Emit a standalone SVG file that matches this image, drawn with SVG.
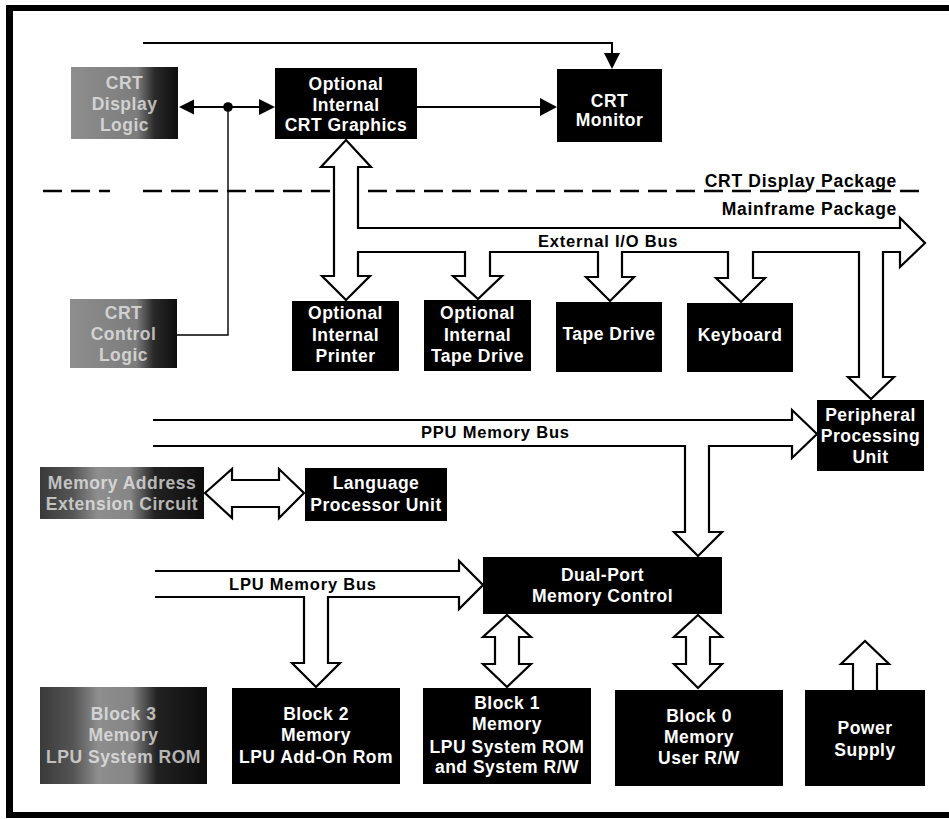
<svg xmlns="http://www.w3.org/2000/svg" width="949" height="819" viewBox="0 0 949 819">
<style>
  .box{fill:#000;}
  .gbox{fill:url(#fadeR);}
  .gbox2{fill:url(#fadeB);}
  .t{font-family:"Liberation Sans",Arial,Helvetica,sans-serif;font-weight:bold;font-size:17.5px;fill:#fff;text-anchor:middle;letter-spacing:0.5px;}
  .gt{fill:#f2f2f2;fill-opacity:0.72;}
  .lbl{font-family:"Liberation Sans",Arial,Helvetica,sans-serif;font-weight:bold;font-size:16.5px;fill:#000;letter-spacing:0.8px;}
  .pkg{font-family:"Liberation Sans",Arial,Helvetica,sans-serif;font-weight:bold;font-size:17.5px;fill:#000;letter-spacing:0.7px;text-anchor:end;}
  .bus{fill:#fff;stroke:#000;stroke-width:2.2;stroke-linejoin:miter;}
  .ln{fill:none;stroke:#000;stroke-width:2;}
  .thin{fill:none;stroke:#000;stroke-width:1.4;}
  .dash{fill:none;stroke:#000;stroke-width:2.5;stroke-dasharray:19 9;}
  .head{fill:#000;}
</style>
<defs>
  <linearGradient id="fadeR" x1="0" y1="0" x2="1" y2="0">
    <stop offset="0" stop-color="#8e8e8e"/>
    <stop offset="0.62" stop-color="#7c7c7c"/>
    <stop offset="0.78" stop-color="#2a2a2a"/>
    <stop offset="1" stop-color="#0d0d0d"/>
  </linearGradient>
  <linearGradient id="fadeB" x1="0" y1="0" x2="1" y2="0">
    <stop offset="0" stop-color="#3a3a3a"/>
    <stop offset="0.2" stop-color="#555"/>
    <stop offset="0.35" stop-color="#8e8e8e"/>
    <stop offset="0.55" stop-color="#858585"/>
    <stop offset="0.7" stop-color="#222"/>
    <stop offset="1" stop-color="#0d0d0d"/>
  </linearGradient>
</defs>
<rect width="949" height="819" fill="#fff"/>
<!-- frame -->
<g id="frame">
  <rect x="6" y="5" width="943" height="6" fill="#000"/>
  <rect x="6" y="5" width="7" height="813" fill="#000"/>
  <rect x="6" y="812" width="943" height="6" fill="#000"/>
</g>
<!-- package divider -->
<g id="divider">
  <path class="dash" d="M43 191 H110 M143 191 H330 M368 191 H927"/>
  <text class="pkg" x="897" y="187">CRT Display Package</text>
  <text class="pkg" x="897" y="215">Mainframe Package</text>
</g>
<!-- connectors -->
<g id="connectors">
  <path class="ln" d="M143 43 H612 V54"/>
  <polygon class="head" points="604,53 620,53 612,69"/>
  <path class="ln" d="M193 107 H259"/>
  <polygon class="head" points="179,107 194,99.5 194,114.5"/>
  <polygon class="head" points="275,107 259,99 259,115"/>
  <circle cx="228" cy="107" r="4.8" fill="#000"/>
  <path class="thin" d="M228 107 V335 H177"/>
  <path class="ln" d="M417 107 H541"/>
  <polygon class="head" points="557,107 540,98 540,116"/>
  <!-- external I/O bus -->
  <path class="bus" d="M346 140 L371 167 L358 167 L358 228 L900 228 L900 218 L925 243 L900 267 L900 252 L883 252 L883 377 L894 377 L871 399 L848 377 L859 377 L859 252 L753 252 L753 278 L765 278 L741 302 L716 278 L728 278 L728 252 L622 252 L622 277 L634 277 L610 301 L586 277 L598 277 L598 252 L490 252 L490 276 L502 276 L478 299 L453 276 L465 276 L465 252 L358 252 L358 276 L370 276 L346 300 L322 276 L334 276 L334 167 L321 167 Z"/>
  <text class="lbl" x="538" y="247">External I/O Bus</text>
  <!-- PPU memory bus -->
  <path class="bus" d="M153 420 L792 420 L792 410 L817 434 L792 458 L792 446 L709 446 L709 532 L722 532 L698 556 L674 532 L685 532 L685 446 L153 446"/>
  <text class="lbl" x="421" y="438">PPU Memory Bus</text>
  <!-- LPU memory bus -->
  <path class="bus" d="M155 571 L459 571 L459 561 L483 585 L459 609 L459 597 L328 597 L328 663 L340 663 L316 687 L292 663 L304 663 L304 597 L155 597"/>
  <text class="lbl" x="229" y="590">LPU Memory Bus</text>
  <!-- MAEC <-> LPU -->
  <path class="bus" d="M205 493 L232 469 L232 480 L279 480 L279 469 L304 493 L279 518 L279 507 L232 507 L232 518 Z"/>
  <!-- dual-port <-> block 1 -->
  <path class="bus" d="M507 615 L531 637 L519 637 L519 664 L531 664 L507 687 L483 664 L495 664 L495 637 L483 637 Z"/>
  <!-- dual-port <-> block 0 -->
  <path class="bus" d="M698 615 L722 637 L710 637 L710 664 L722 664 L698 688 L674 664 L686 664 L686 637 L674 637 Z"/>
  <!-- power supply -->
  <path class="bus" d="M853 690 L853 664 L841 664 L865 641 L889 664 L877 664 L877 690"/>
</g>
<!-- nodes -->
<g id="crt-display-logic">
  <rect class="gbox" x="71" y="67" width="107" height="72"/>
  <text class="t gt" x="124.5" y="88.5">CRT</text>
  <text class="t gt" x="124.5" y="109.5">Display</text>
  <text class="t gt" x="124.5" y="130.5">Logic</text>
</g>
<g id="crt-graphics">
  <rect class="box" x="275" y="68" width="142" height="71"/>
  <text class="t" x="346" y="90">Optional</text>
  <text class="t" x="346" y="111">Internal</text>
  <text class="t" x="346" y="131">CRT Graphics</text>
</g>
<g id="crt-monitor">
  <rect class="box" x="557" y="69" width="105" height="73"/>
  <text class="t" x="609.5" y="107">CRT</text>
  <text class="t" x="609.5" y="126">Monitor</text>
</g>
<g id="crt-control-logic">
  <rect class="gbox" x="70" y="299" width="107" height="69"/>
  <text class="t gt" x="123.5" y="319">CRT</text>
  <text class="t gt" x="123.5" y="340">Control</text>
  <text class="t gt" x="123.5" y="361">Logic</text>
</g>
<g id="internal-printer">
  <rect class="box" x="292" y="301" width="107" height="70"/>
  <text class="t" x="345.5" y="319">Optional</text>
  <text class="t" x="345.5" y="340.5">Internal</text>
  <text class="t" x="345.5" y="361.5">Printer</text>
</g>
<g id="internal-tape-drive">
  <rect class="box" x="424" y="300" width="107" height="71"/>
  <text class="t" x="477.5" y="319">Optional</text>
  <text class="t" x="477.5" y="340.5">Internal</text>
  <text class="t" x="477.5" y="361.5">Tape Drive</text>
</g>
<g id="tape-drive">
  <rect class="box" x="556" y="302" width="106" height="70"/>
  <text class="t" x="609" y="340">Tape Drive</text>
</g>
<g id="keyboard">
  <rect class="box" x="687" y="303" width="106" height="69"/>
  <text class="t" x="740" y="341">Keyboard</text>
</g>
<g id="ppu">
  <rect class="box" x="817" y="400" width="107" height="71"/>
  <text class="t" x="870.5" y="421">Peripheral</text>
  <text class="t" x="870.5" y="442">Processing</text>
  <text class="t" x="870.5" y="463">Unit</text>
</g>
<g id="memory-address-extension">
  <rect class="gbox2" x="40" y="467" width="164" height="52"/>
  <text class="t gt" x="122" y="488.5">Memory Address</text>
  <text class="t gt" x="122" y="510">Extension Circuit</text>
</g>
<g id="lpu">
  <rect class="box" x="305" y="468" width="142" height="53"/>
  <text class="t" x="376" y="489">Language</text>
  <text class="t" x="376" y="511">Processor Unit</text>
</g>
<g id="dual-port">
  <rect class="box" x="483" y="557" width="239" height="57"/>
  <text class="t" x="602.5" y="581">Dual-Port</text>
  <text class="t" x="602.5" y="602">Memory Control</text>
</g>
<g id="block3">
  <rect class="gbox2" x="40" y="687" width="167" height="97"/>
  <text class="t gt" x="123.5" y="720">Block 3</text>
  <text class="t gt" x="123.5" y="741">Memory</text>
  <text class="t gt" x="123.5" y="763">LPU System ROM</text>
</g>
<g id="block2">
  <rect class="box" x="232" y="688" width="168" height="96"/>
  <text class="t" x="316" y="720">Block 2</text>
  <text class="t" x="316" y="741">Memory</text>
  <text class="t" x="316" y="763">LPU Add-On Rom</text>
</g>
<g id="block1">
  <rect class="box" x="423" y="688" width="168" height="96"/>
  <text class="t" x="507" y="709">Block 1</text>
  <text class="t" x="507" y="730">Memory</text>
  <text class="t" x="507" y="752.5">LPU System ROM</text>
  <text class="t" x="507" y="773">and System R/W</text>
</g>
<g id="block0">
  <rect class="box" x="615" y="690" width="168" height="96"/>
  <text class="t" x="699" y="722">Block 0</text>
  <text class="t" x="699" y="743">Memory</text>
  <text class="t" x="699" y="764">User R/W</text>
</g>
<g id="power-supply">
  <rect class="box" x="805" y="690" width="120" height="96"/>
  <text class="t" x="865" y="734">Power</text>
  <text class="t" x="865" y="756">Supply</text>
</g>
</svg>
